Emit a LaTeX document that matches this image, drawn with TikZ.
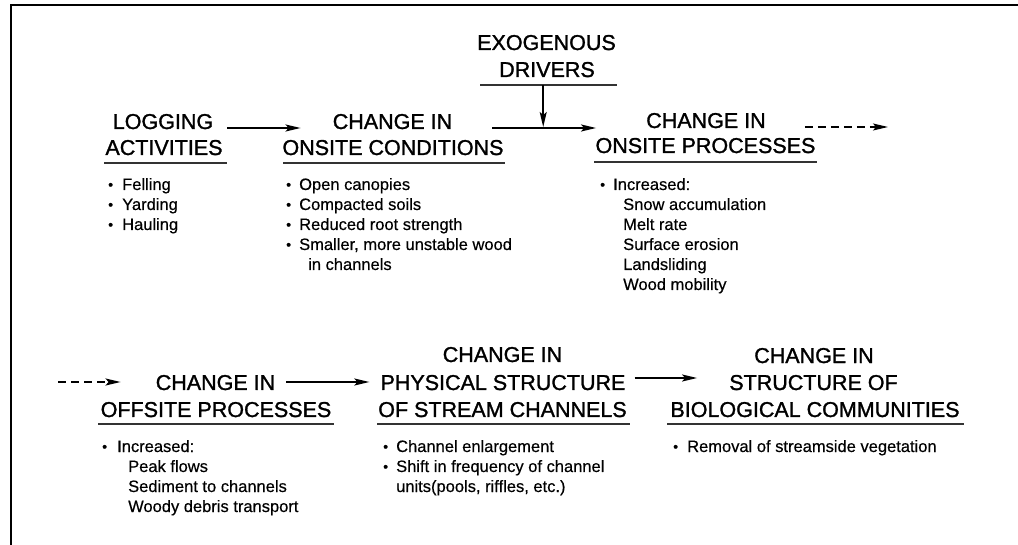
\documentclass[tikz,border=0pt]{standalone}
\usepackage{fontspec}
\setmainfont{Liberation Sans}
\newfontfamily\hdfam{Liberation Sans}[FakeBold=1.3]
\newfontfamily\bdfam{Liberation Sans}[FakeBold=0.4]
\usetikzlibrary{arrows.meta,calc}
\newcommand\hfont{\hdfam\fontsize{21.5}{26}\selectfont}
\newcommand\bfont{\bdfam\fontsize{16.5}{20}\selectfont}
\newcommand\bit[1]{\makebox[#1][l]{\raisebox{0.5pt}{\fontsize{14}{14}\selectfont•}}}
\newcommand\blist[1]{\begin{tabular}[t]{@{}l@{}}#1\end{tabular}}
\tikzset{
  hd/.style={font=\hfont, inner sep=0pt, anchor=base},
  bl/.style={font=\bfont, inner sep=0pt, anchor=base west},
  uline/.style={line width=1.6pt, black!80},
  arr/.style={line width=1.5pt, -{Stealth[length=15pt,width=7pt,inset=3pt]}},
  darr/.style={arr, dash pattern=on 8pt off 5pt},
  frame/.style={line width=2pt, black},
}
\begin{document}
\begin{tikzpicture}[x=1pt,y=-1pt]
\useasboundingbox (0,0) rectangle (1018,545);
\fill[white] (0,0) rectangle (1018,545);
% frame
\draw[frame] (1018,5) -- (11,5) -- (11,545);

% headings row 1
\node[hd] (exoA) at (546.5,50) {EXOGENOUS};
\node[hd] (exoB) at (547,77) {DRIVERS};
\node[hd] (logA) at (163,129) {LOGGING};
\node[hd] (logB) at (164,155) {ACTIVITIES};
\node[hd] (condA) at (392.5,129) {CHANGE IN};
\node[hd] (condB) at (393,155) {ONSITE CONDITIONS};
\node[hd] (procA) at (706,128) {CHANGE IN};
\node[hd] (procB) at (705.5,153) {ONSITE PROCESSES};

% headings row 2
\node[hd] (offA) at (215.5,390) {CHANGE IN};
\node[hd] (offB) at (216,417) {OFFSITE PROCESSES};
\node[hd] (physA) at (502.5,362) {CHANGE IN};
\node[hd] (physB) at (503,390) {PHYSICAL STRUCTURE};
\node[hd] (physC) at (502.5,417) {OF STREAM CHANNELS};
\node[hd] (bioA) at (814,363) {CHANGE IN};
\node[hd] (bioB) at (813.5,390) {STRUCTURE OF};
\node[hd] (bioC) at (815,417) {BIOLOGICAL COMMUNITIES};

% underlines
\draw[uline] (480,85) -- (617,85);
\draw[uline] (104,163) -- (227,163);
\draw[uline] (283,163) -- (505,163);
\draw[uline] (594,162) -- (817,162);
\draw[uline] (98,424) -- (334,424);
\draw[uline] (377,424) -- (630,424);
\draw[uline] (667,424) -- (964,424);

% lists
\node[bl] (logL) at (108,190) {\blist{\bit{14pt}Felling\\ \bit{14pt}Yarding\\ \bit{14pt}Hauling}};
\node[bl] (condL) at (286,190) {\blist{\bit{13pt}Open canopies\\ \bit{13pt}Compacted soils\\ \bit{13pt}Reduced root strength\\ \bit{13pt}Smaller, more unstable wood\\ \hspace*{22pt}in channels}};
\node[bl] (procL) at (600,190) {\blist{\bit{13pt}Increased:\\ \hspace*{23pt}Snow accumulation\\ \hspace*{23pt}Melt rate\\ \hspace*{23pt}Surface erosion\\ \hspace*{23pt}Landsliding\\ \hspace*{23pt}Wood mobility}};
\node[bl] (offL) at (102,452) {\blist{\bit{15pt}Increased:\\ \hspace*{26pt}Peak flows\\ \hspace*{26pt}Sediment to channels\\ \hspace*{26pt}Woody debris transport}};
\node[bl] (physL) at (383,452) {\blist{\bit{13pt}Channel enlargement\\ \bit{13pt}Shift in frequency of channel\\ \hspace*{13pt}units(pools, riffles, etc.)}};
\node[bl] (bioL) at (673,452) {\blist{\bit{14pt}Removal of streamside vegetation}};

% arrows row 1
\draw[arr] ([xshift=14pt,yshift=1pt]logA.base east) -- ([xshift=-32pt,yshift=1pt]condA.base west);
\draw[arr] ([xshift=40pt,yshift=1pt]condA.base east) -- coordinate[pos=0.49] (j) ([xshift=-50pt]procA.base west);
\draw[arr, shorten >=1pt] ($(exoB.base -| j)+(0,8)$) -- (j);
\coordinate (dend) at (888,127);
\draw[darr] ([xshift=39pt,yshift=1pt]procA.base east) -- (dend);

% arrows row 2
\coordinate (dstart) at (58,382);
\draw[darr] (dstart) -- ([xshift=-35pt,yshift=8pt]offA.base west);
\draw[arr] ([xshift=11pt,yshift=8pt]offA.base east) -- ([xshift=-11pt,yshift=8pt]physB.base west);
\draw[arr] ([xshift=9pt,yshift=12pt]physB.base east) -- ([xshift=-32pt,yshift=12pt]bioB.base west);
\end{tikzpicture}
\end{document}
